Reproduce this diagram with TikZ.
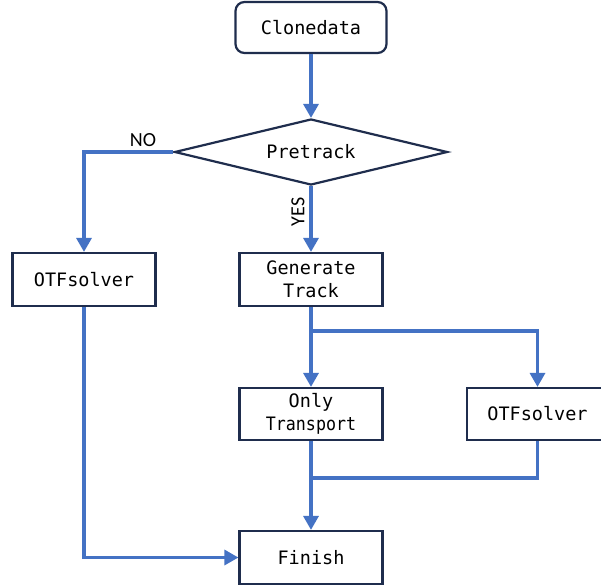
\documentclass[tikz,border=0pt]{standalone}
\usepackage{fontspec}
\setmonofont{DejaVu Sans Mono}
\newfontfamily\labelfont{Carlito}
\usetikzlibrary{arrows.meta,shapes.geometric}
\definecolor{flow}{HTML}{4472C4}
\definecolor{edgecol}{HTML}{1F2D4D}
\begin{document}
\begin{tikzpicture}[x=1pt,y=-1pt,
  box/.style={draw=edgecol,line width=2.2pt,fill=white,minimum width=143pt,minimum height=53pt,
    align=center,inner sep=0pt,font=\ttfamily\fontsize{18.5}{23}\selectfont},
  arr/.style={draw=flow,line width=3.2pt,-{Triangle[length=14pt,width=15pt]}},
  ln/.style={draw=flow,line width=3.2pt},
  lbl/.style={font=\labelfont\fontsize{20}{24}\selectfont,inner sep=0pt}]
\useasboundingbox (0,0) rectangle (601,587);
\clip (0,0) rectangle (601,587);
\fill[white] (0,0) rectangle (601,587);
\node[box,rounded corners=9pt,minimum width=151pt,minimum height=51pt] (clone) at (311,27.5) {Clonedata};
\node[diamond,aspect=4.14,draw=edgecol,line width=2.2pt,fill=white,minimum width=273pt,minimum height=66pt,inner sep=0pt,
  font=\ttfamily\fontsize{18.5}{23}\selectfont] (pre) at (311,152) {Pretrack};
\node[box] (otfL) at (84,279.5) {OTFsolver};
\node[box] (gen) at (311,279.5) {Generate\\Track};
\node[box,minimum height=52pt] (only) at (311,414) {Only\\\scalebox{0.9}[1]{Transport}};
\node[box,minimum width=141pt,minimum height=52pt] (otfR) at (537.5,414) {OTFsolver};
\node[box] (fin) at (311,557.5) {Finish};
\coordinate (b1) at (311,331);
\coordinate (m) at (311,478);
\draw[arr] (clone) -- (pre);
\draw[arr] (pre.west) -| (otfL.north);
\node[lbl] (no) at (143,140) {NO};
\draw[arr] (pre.south) -- (gen.north);
\node[lbl,rotate=90] (yes) at (298,212) {YES};
\draw[ln] (gen.south) -- (b1);
\draw[arr] (b1) -- (only.north);
\draw[arr] (b1) -| (otfR.north);
\draw[arr] (only.south) -- (fin.north);
\draw[ln] (otfR.south) |- (m);
\draw[arr] (otfL.south) |- (fin.west);
\end{tikzpicture}
\end{document}
